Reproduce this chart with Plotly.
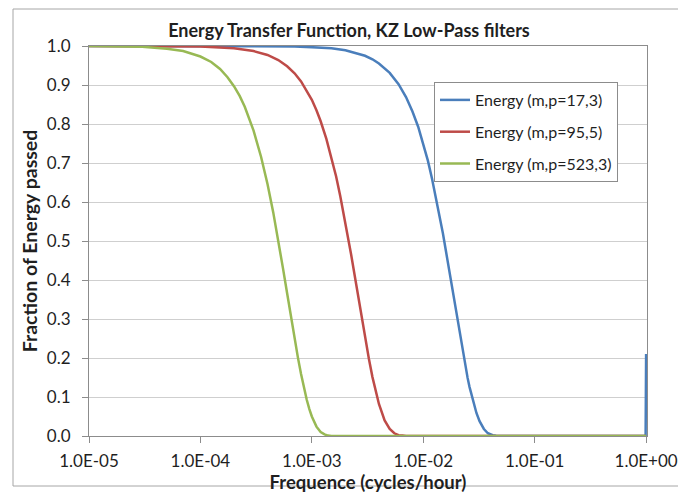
import plotly.graph_objects as go

# Frequencies (cycles/hour) and fraction of energy passed for each KZ filter
freq_blue = [1e-5, 1e-4, 2e-4, 3e-4, 5e-4, 7e-4, 1e-3, 1.5e-3, 2e-3, 2.5e-3, 3e-3, 3.5e-3, 4e-3,
             5e-3, 6e-3, 7e-3, 8e-3, 9e-3, 0.010, 0.011, 0.012, 0.013, 0.014, 0.015, 0.016,
             0.017, 0.018, 0.019, 0.020, 0.022, 0.024, 0.025, 0.026, 0.028, 0.030, 0.032,
             0.035, 0.038, 0.040, 0.042, 0.045, 0.050, 0.1, 0.5, 0.98, 0.99, 1.0]
energy_blue = [1.000, 1.000, 1.000, 1.000, 0.999, 0.999, 0.997, 0.994, 0.989, 0.982, 0.975, 0.966, 0.955,
               0.931, 0.902, 0.869, 0.832, 0.793, 0.750, 0.706, 0.659, 0.612, 0.566, 0.520, 0.473,
               0.429, 0.386, 0.344, 0.305, 0.234, 0.175, 0.149, 0.126, 0.088, 0.059, 0.038,
               0.018, 0.007, 0.004, 0.002, 0.0005, 0.000, 0.000, 0.000, 0.000, 0.000, 0.210]

freq_red = [1e-5, 1e-4, 2e-4, 3e-4, 4e-4, 5e-4, 6e-4, 7e-4, 8e-4, 9e-4, 1e-3, 1.1e-3, 1.2e-3,
            1.35e-3, 1.5e-3, 1.65e-3, 1.8e-3, 2e-3, 2.25e-3, 2.5e-3, 2.75e-3, 3e-3, 3.25e-3,
            3.5e-3, 3.75e-3, 4e-3, 4.5e-3, 5e-3, 5.5e-3, 6e-3, 6.5e-3, 7e-3, 1e-2, 0.1, 1.0]
energy_red = [1.000, 0.999, 0.994, 0.987, 0.977, 0.964, 0.948, 0.930, 0.909, 0.886, 0.862, 0.835, 0.807,
              0.762, 0.714, 0.666, 0.615, 0.548, 0.466, 0.389, 0.318, 0.253, 0.198,
              0.151, 0.113, 0.082, 0.040, 0.018, 0.007, 0.002, 0.001, 0.000, 0.000, 0.000, 0.000]

freq_green = [1e-5, 2e-5, 3e-5, 5e-5, 7e-5, 1e-4, 1.25e-4, 1.5e-4, 1.75e-4, 2e-4, 2.25e-4, 2.5e-4,
              3e-4, 3.5e-4, 4e-4, 4.5e-4, 5e-4, 5.5e-4, 6e-4, 6.5e-4, 7e-4, 7.5e-4, 8e-4, 8.5e-4,
              9e-4, 9.5e-4, 1e-3, 1.1e-3, 1.2e-3, 1.3e-3, 1.4e-3, 1.5e-3, 1.6e-3, 2e-3, 1e-2, 0.1, 1.0]
energy_green = [1.000, 0.999, 0.998, 0.993, 0.987, 0.973, 0.959, 0.941, 0.920, 0.897, 0.872, 0.844,
                0.783, 0.716, 0.646, 0.574, 0.502, 0.431, 0.366, 0.305, 0.250, 0.201, 0.159, 0.123,
                0.093, 0.069, 0.050, 0.024, 0.010, 0.004, 0.001, 0.0003, 0.000, 0.000, 0.000, 0.000, 0.000]

series_names = ["Energy (m,p=17,3)", "Energy (m,p=95,5)", "Energy (m,p=523,3)"]
series_colors = ["#4A7EBB", "#BE4B48", "#98B954"]

x_tickvals = [1e-5, 1e-4, 1e-3, 1e-2, 1e-1, 1e0]
x_ticktext = ["1.0E-05", "1.0E-04", "1.0E-03", "1.0E-02", "1.0E-01", "1.0E+00"]

FONT = "Lato, 'Open Sans', sans-serif"
TXT = "#1f1f1f"

fig = go.Figure()
for i, (fx, fy) in enumerate([(freq_blue, energy_blue), (freq_red, energy_red), (freq_green, energy_green)]):
    fig.add_trace(go.Scatter(
        x=fx, y=fy, mode="lines", name=series_names[i],
        legendgroup=f"g{i}",
        line=dict(color=series_colors[i], width=2.5),
    ))

# Plot area geometry (pixels); the log axis runs a hair past 1.0 so the
# last sample is not cut by the frame
W, H = 678, 494
L, R, T, B = 89, 31, 46, 58
X_MAX = 0.008
pw, ph = W - L - R, H - T - B

def px_to_paper(x, y):
    return (x - L) / pw, (H - B - y) / ph

bx0, by0 = px_to_paper(13, 486)
bx1, by1 = px_to_paper(690, 9)
lx, ly = px_to_paper(434, 82)

fig.update_layout(
    width=W, height=H,
    margin=dict(l=L, r=R, t=T, b=B),
    paper_bgcolor="white", plot_bgcolor="white",
    font=dict(family=FONT, color=TXT),
    title=dict(text="<b>Energy Transfer Function, KZ Low-Pass filters</b>",
               x=349 / W, xanchor="center", y=1 - 31 / H, yanchor="middle",
               font=dict(size=18, family=FONT, color=TXT)),
    showlegend=True,
    legend=dict(x=lx, y=ly, xanchor="left", yanchor="top",
                bgcolor="white", bordercolor="#8c8c8c", borderwidth=1,
                font=dict(size=16, family=FONT, color=TXT),
                traceorder="grouped", tracegroupgap=8),
    shapes=[dict(type="rect", xref="paper", yref="paper",
                 x0=bx0, x1=bx1, y0=by0, y1=by1,
                 line=dict(color="#a6a6a6", width=1), layer="below")],
)

fig.update_xaxes(
    type="log", range=[-5, X_MAX],
    tickvals=x_tickvals, ticktext=x_ticktext,
    ticks="outside", ticklen=6, tickcolor="#8c8c8c",
    showline=True, linecolor="#8c8c8c", linewidth=1, mirror=True,
    showgrid=False, zeroline=False, layer="below traces",
    tickfont=dict(size=17, family=FONT, color=TXT),
    ticklabelstandoff=4,
    title=dict(text="<b>Frequence (cycles/hour)</b>", standoff=2,
               font=dict(size=18.5, family=FONT, color=TXT)),
    automargin=False,
)
fig.update_yaxes(
    range=[0, 1], dtick=0.1, tickformat=".1f",
    ticks="outside", ticklen=6, tickcolor="#8c8c8c",
    showline=True, linecolor="#8c8c8c", linewidth=1, mirror=True,
    showgrid=True, gridcolor="#cfcfcf", gridwidth=1, zeroline=False, layer="below traces",
    tickfont=dict(size=17, family=FONT, color=TXT),
    ticklabelstandoff=8,
    title=dict(text="<b>Fraction of Energy passed</b>", standoff=4,
               font=dict(size=19.5, family=FONT, color=TXT)),
    automargin=False,
)

fig.write_html("out.html")
